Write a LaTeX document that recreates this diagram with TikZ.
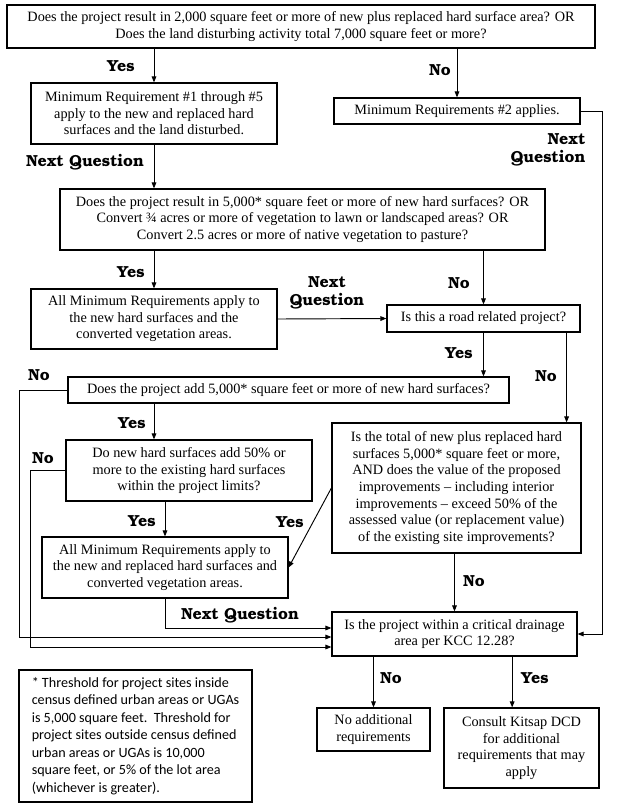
\documentclass[tikz,border=0pt]{standalone}
\usepackage{fontspec}
\setmainfont{Liberation Serif}
\newfontfamily\notefont{Carlito}
\newfontfamily\lblfont{texgyrebonum-bold}[Extension=.otf]
\usetikzlibrary{arrows.meta, calc}

\begin{document}
\begin{tikzpicture}[
    x=0.75pt, y=-0.75pt, % work in pixel units, y downwards
    >={Triangle[length=4.5pt, width=3.5pt]}, % Set default arrow tip style
    box/.style 2 args={draw, line width=0.9pt, align=center, inner sep=2pt,
        minimum width=#1, minimum height=#2,
        font=\fontsize{10.7}{12.4}\selectfont}, % Style for question boxes
    lbl/.style={font=\lblfont\fontsize{12}{13.5}\selectfont, inner sep=0pt, align=center}, % Yes / No labels
    arr/.style={->, line width=0.7pt} % Style for connectors
]
\useasboundingbox (0,0) rectangle (620,811);

% Boxes
\node[box={441pt}{32.25pt}] (q1) at (301,26.5)
    {Does the project result in 2,000 square feet or more of new plus replaced hard surface area? OR\\
     Does the land disturbing activity total 7,000 square feet or more?};
\node[box={184.5pt}{45.75pt}] (mr15) at (154,113.5)
    {Minimum Requirement \#1 through \#5\\apply to the new and replaced hard\\surfaces and the land disturbed.};
\node[box={184.5pt}{19.5pt}] (mr2) at (457,111) {Minimum Requirements \#2 applies.};
\node[box={363.75pt}{45.75pt}] (q2) at (302.5,219.5)
    {Does the project result in 5,000* square feet or more of new hard surfaces? OR\\
     Convert ¾ acres or more of vegetation to lawn or landscaped areas? OR\\
     Convert 2.5 acres or more of native vegetation to pasture?};
\node[box={184.5pt}{45pt}] (allA) at (154,319)
    {All Minimum Requirements apply to\\the new hard surfaces and the\\converted vegetation areas.};
\node[box={144.75pt}{20.25pt}] (road) at (483.5,318.5) {Is this a road related project?};
\node[box={330.75pt}{19.5pt}] (q3) at (288.5,390)
    {Does the project add 5,000* square feet or more of new hard surfaces?};
\node[box={184.5pt}{45.75pt}] (q4) at (189,470.5)
    {Do new hard surfaces add 50\% or\\more to the existing hard surfaces\\within the project limits?};
\node[box={186.75pt}{97.5pt}] (q5) at (456.5,488)
    {Is the total of new plus replaced hard\\surfaces 5,000* square feet or more,\\AND does the value of the proposed\\improvements -- including interior\\improvements -- exceed 50\% of the\\assessed value (or replacement value)\\of the existing site improvements?};
\node[box={184.5pt}{45.75pt}] (allB) at (165,567.5)
    {All Minimum Requirements apply to\\the new and replaced hard surfaces and\\converted vegetation areas.};
\node[box={183.75pt}{33pt}] (crit) at (454.5,634)
    {Is the project within a critical drainage\\area per KCC 12.28?};
\node[box={84.75pt}{32.25pt}] (noadd) at (373.5,729.5) {No additional\\requirements};
\node[box={116.25pt}{60pt}] (consult) at (521.5,748)
    {Consult Kitsap DCD\\for additional\\requirements that may\\apply};

% Footnote
\node[draw, line width=1.6pt, align=left, inner sep=5pt, minimum width=174.75pt,
      minimum height=99pt, font=\notefont\fontsize{10.6}{13.1}\selectfont] (note) at (135.5,736)
    {* Threshold for project sites inside\\census defined urban areas or UGAs\\is 5,000 square feet.\ \ Threshold for\\project sites outside census defined\\urban areas or UGAs is 10,000\\square feet, or 5\% of the lot area\\(whichever is greater).};

% Helper coordinates
\coordinate (roadno) at ([xshift=-10.5pt]road.south east);
\coordinate (cyes) at ([xshift=-7pt]consult.north);

% Connectors
\draw[arr] (mr15.north |- q1.south) -- (mr15.north);
\draw[arr] (mr2.north |- q1.south) -- (mr2.north);
\draw[arr] (mr15.south) -- (mr15.south |- q2.north);
\draw[arr] (mr2.east) -- ++(22,0) |- (crit.east);
\draw[arr] (allA.north |- q2.south) -- (allA.north);
\draw[arr] (road.north |- q2.south) -- (road.north);
\draw[arr] (allA.east) -- (road.west);
\draw[arr] (road.south) -- (road.south |- q3.north);
\draw[arr] (roadno) -- (roadno |- q5.north);
\draw[arr] (mr15.south |- q3.south) -- (mr15.south |- q4.north);
\draw[arr] (allB.north |- q4.south) -- (allB.north);
\draw[arr] (q5.west) -- (allB.east);
\draw[arr] (crit.north |- q5.south) -- (crit.north);
\draw[arr] (allB.south) |- ([yshift=4.5pt]crit.west);
\draw[arr] (q3.west) -- ++(-48,0) |- ([yshift=-2.25pt]crit.west);
\draw[arr] (q4.west) -- ++(-35,0) |- ([yshift=-9.75pt]crit.west);
\draw[arr] (noadd.north |- crit.south) -- (noadd.north);
\draw[arr] (cyes |- crit.south) -- (cyes);

% Labels
\node[lbl] (lyes1) at (121,66) {Yes};
\node[lbl] (lno1) at (440,70) {No};
\node[lbl] (lnq1) at (85,162) {Next Question};
\node[lbl, align=right] (lnq2) at (548,150) {Next\\Question};
\node[lbl] (lyes2) at (131,272) {Yes};
\node[lbl] (lnq3) at (327,293) {Next\\Question};
\node[lbl] (lno2) at (459,283) {No};
\node[lbl] (lyes3) at (459,353) {Yes};
\node[lbl] (lno3) at (546,376) {No};
\node[lbl] (lno4) at (39,375) {No};
\node[lbl] (lyes4) at (132,423) {Yes};
\node[lbl] (lno5) at (43,458) {No};
\node[lbl] (lyes5) at (142,521) {Yes};
\node[lbl] (lyes6) at (290,522) {Yes};
\node[lbl] (lnq4) at (240,615) {Next Question};
\node[lbl] (lno6) at (474,581) {No};
\node[lbl] (lno7) at (391,678) {No};
\node[lbl] (lyes7) at (535,678) {Yes};

\end{tikzpicture}
\end{document}
